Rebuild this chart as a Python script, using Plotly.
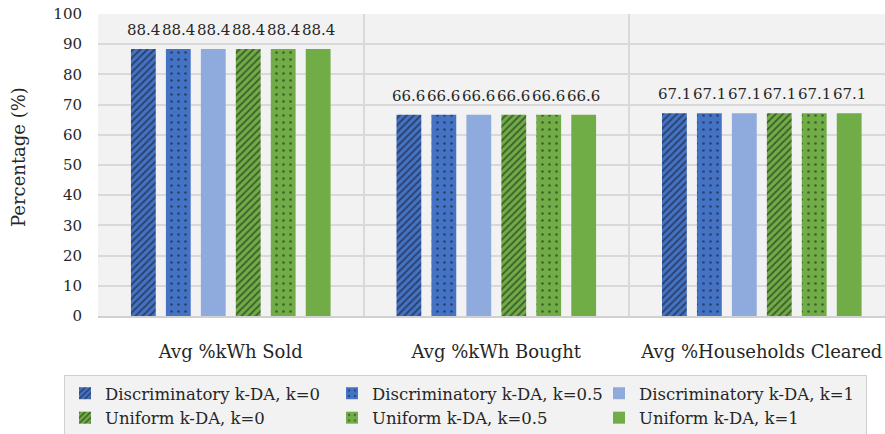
import plotly.graph_objects as go

# Metrics shown on the x axis
categories = ["Avg %kWh Sold", "Avg %kWh Bought", "Avg %Households Cleared"]

# Auction variants (series)
series_names = [
    "Discriminatory k-DA, k=0",
    "Discriminatory k-DA, k=0.5",
    "Discriminatory k-DA, k=1",
    "Uniform k-DA, k=0",
    "Uniform k-DA, k=0.5",
    "Uniform k-DA, k=1",
]

# Percentages per series, one value per metric
disc_k0 = [88.4, 66.6, 67.1]
disc_k05 = [88.4, 66.6, 67.1]
disc_k1 = [88.4, 66.6, 67.1]
unif_k0 = [88.4, 66.6, 67.1]
unif_k05 = [88.4, 66.6, 67.1]
unif_k1 = [88.4, 66.6, 67.1]

series_values = [disc_k0, disc_k05, disc_k1, unif_k0, unif_k05, unif_k1]

colors = ["#4472C4", "#4472C4", "#8FAADC", "#70AD47", "#70AD47", "#70AD47"]
patterns = [
    dict(shape="/", fgcolor="#111111", size=5, solidity=0.38),
    dict(shape=".", fgcolor="#111111", size=7, solidity=0.12),
    dict(shape=""),
    dict(shape="/", fgcolor="#111111", size=5, solidity=0.38),
    dict(shape=".", fgcolor="#111111", size=7, solidity=0.12),
    dict(shape=""),
]

FONT = "DejaVu Serif"
TXT = "#262626"

# figure / plot-area geometry in pixels
W, H = 885, 434
ML, MR, MT, MB = 98, 0, 14, 118
PW = W - ML - MR
PH = H - MT - MB

X_RANGE = [-0.5, 2.464]
BARGAP = 0.21
BARGROUPGAP = 0.29

# horizontal pitch of one bar slot inside a group, in pixels
cat_px = PW / (X_RANGE[1] - X_RANGE[0])
slot_px = cat_px * (1 - BARGAP) / len(series_names)

fig = go.Figure()
annotations = []
for i, (name, vals, col, pat) in enumerate(zip(series_names, series_values, colors, patterns)):
    fig.add_trace(
        go.Bar(
            name=name,
            x=categories,
            y=vals,
            marker=dict(color=col, pattern=pat, line=dict(width=0)),
        )
    )
    # value labels above each bar
    for cat, v in zip(categories, vals):
        annotations.append(
            dict(
                x=cat,
                y=v,
                xref="x",
                yref="y",
                text=f"{v:.1f}",
                showarrow=False,
                xanchor="center",
                yanchor="middle",
                xshift=(i - (len(series_names) - 1) / 2) * slot_px,
                yshift=19,
                font=dict(family=FONT, size=15, color=TXT),
            )
        )

annotations.append(
    dict(
        text="Percentage (%)",
        textangle=-90,
        xref="paper",
        yref="paper",
        x=(18 - ML) / PW,
        y=(MT + PH - 157) / PH,
        xanchor="center",
        yanchor="middle",
        showarrow=False,
        font=dict(family=FONT, size=18, color=TXT),
    )
)

fig.update_layout(
    width=W,
    height=H,
    margin=dict(l=ML, r=MR, t=MT, b=MB, autoexpand=False),
    paper_bgcolor="white",
    plot_bgcolor="#F2F2F2",
    font=dict(family=FONT, size=15, color=TXT),
    barmode="group",
    bargap=BARGAP,
    bargroupgap=BARGROUPGAP,
    showlegend=True,
    legend=dict(
        orientation="h",
        x=(64 - ML) / PW,
        y=(MT + PH - 375) / PH,
        xanchor="left",
        yanchor="top",
        bgcolor="#F2F2F2",
        bordercolor="#D0D0D0",
        borderwidth=1,
        font=dict(family=FONT, size=16.5, color=TXT),
        entrywidth=222,
        entrywidthmode="pixels",
        itemwidth=30,
        tracegroupgap=0,
    ),
    annotations=annotations,
)

fig.update_xaxes(
    type="category",
    range=X_RANGE,
    tickson="boundaries",
    showgrid=True,
    gridcolor="#D9D9D9",
    gridwidth=1.5,
    showline=True,
    linecolor="#D0D0D0",
    linewidth=2,
    ticks="",
    ticklabelstandoff=18,
    tickfont=dict(family=FONT, size=18, color=TXT),
)

fig.update_yaxes(
    range=[0, 100],
    dtick=10,
    showgrid=True,
    gridcolor="#D9D9D9",
    gridwidth=1.5,
    zeroline=False,
    ticks="outside",
    ticklen=12,
    tickcolor="rgba(0,0,0,0)",
    tickfont=dict(family=FONT, size=15, color=TXT),
)

fig.write_html("out.html")
